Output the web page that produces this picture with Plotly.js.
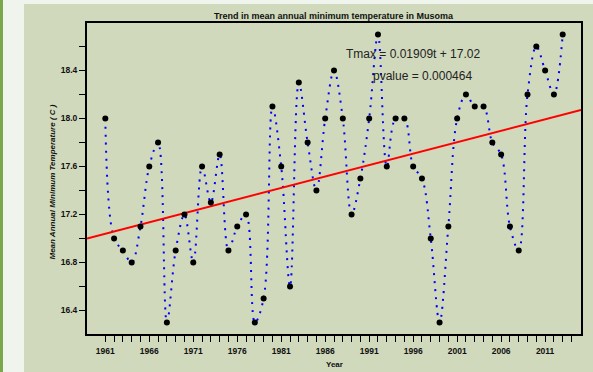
<!DOCTYPE html>
<html>
<head>
<meta charset="utf-8">
<script src="https://cdn.plot.ly/plotly-3.0.1.min.js"></script>
<style>
  html, body { margin: 0; padding: 0; background: #eff4ec; width: 593px; height: 372px; overflow: hidden; }
  #strip { position: absolute; left: 0; top: 0; width: 3px; height: 372px; background: #79a84a; }
  #chart { position: absolute; left: 24px; top: 4px; width: 569px; height: 368px; }
</style>
</head>
<body>
<div id="strip"></div>
<div id="chart"></div>
<script>
// Data
var years = [1961,1962,1963,1964,1965,1966,1967,1968,1969,1970,
             1971,1972,1973,1974,1975,1976,1977,1978,1979,1980,
             1981,1982,1983,1984,1985,1986,1987,1988,1989,1990,
             1991,1992,1993,1994,1995,1996,1997,1998,1999,2000,
             2001,2002,2003,2004,2005,2006,2007,2008,2009,2010,
             2011,2012,2013];
var minTemp = [18.0,17.0,16.9,16.8,17.1,17.6,17.8,16.3,16.9,17.2,
               16.8,17.6,17.3,17.7,16.9,17.1,17.2,16.3,16.5,18.1,
               17.6,16.6,18.3,17.8,17.4,18.0,18.4,18.0,17.2,17.5,
               18.0,18.7,17.6,18.0,18.0,17.6,17.5,17.0,16.3,17.1,
               18.0,18.2,18.1,18.1,17.8,17.7,17.1,16.9,18.2,18.6,
               18.4,18.2,18.7];
var trendSlope = 0.01909;
var trendIntercept = 17.02;
var trendOrigin = 1960;   // t = year - 1960
var xLabelYears = [1961,1966,1971,1976,1981,1986,1991,1996,2001,2006,2011];
var yLabelValues = [16.4,16.8,17.2,17.6,18.0,18.4];
var eqText = "Tmax = 0.01909t + 17.02";
var pText = "pvalue = 0.000464";

// axis ranges (R style 4% extension)
var xr = [years[0] - 0.04*(years[years.length-1]-years[0]), years[years.length-1] + 0.04*(years[years.length-1]-years[0])];
var ymin = Math.min.apply(null, minTemp), ymax = Math.max.apply(null, minTemp);
var yr = [ymin - 0.04*(ymax-ymin), ymax + 0.04*(ymax-ymin)];

// tick arrays
var xtv = [], xtt = [];
for (var yv = 1961; yv <= 2014; yv++) {
  xtv.push(yv);
  xtt.push(xLabelYears.indexOf(yv) >= 0 ? String(yv) : '');
}
var ytv = [], ytt = [];
for (var k = 0; k <= 11; k++) {
  var v = Math.round((16.4 + 0.2*k)*10)/10;
  ytv.push(v);
  ytt.push(yLabelValues.indexOf(v) >= 0 ? v.toFixed(1) : '');
}

var trendX = [xr[0], xr[1]];
var trendY = trendX.map(function(x){ return trendIntercept + trendSlope*(x - trendOrigin); });

var font = 'Liberation Sans, Arial, Helvetica, sans-serif';

var traces = [
  { x: years, y: minTemp, type: 'scatter', mode: 'lines',
    line: { shape: 'spline', smoothing: 1, color: '#0000ff', width: 2, dash: '2px,6px' },
    hoverinfo: 'skip' },
  { x: trendX, y: trendY, type: 'scatter', mode: 'lines',
    line: { color: '#ff0000', width: 2 } },
  { x: years, y: minTemp, type: 'scatter', mode: 'markers',
    marker: { color: '#000000', size: 6 } }
];

var layout = {
  width: 569, height: 368,
  margin: { l: 63, r: 12, t: 19, b: 38 },
  paper_bgcolor: '#d0d9bc',
  plot_bgcolor: '#d0d9bc',
  showlegend: false,
  font: { family: font, color: '#000' },
  xaxis: {
    range: xr, showgrid: false, zeroline: false,
    showline: true, linecolor: '#000', linewidth: 2, mirror: true,
    ticks: 'outside', ticklen: 6, tickwidth: 1, tickcolor: '#000',
    tickmode: 'array', tickvals: xtv, ticktext: xtt, ticklabelstandoff: 2,
    tickfont: { family: font, size: 8.5, color: '#111', weight: 'bold' }
  },
  yaxis: {
    range: yr, showgrid: false, zeroline: false,
    showline: true, linecolor: '#000', linewidth: 2, mirror: true,
    ticks: 'outside', ticklen: 6, tickwidth: 1, tickcolor: '#000',
    tickmode: 'array', tickvals: ytv, ticktext: ytt,
    tickfont: { family: font, size: 8.5, color: '#111', weight: 'bold' }
  },
  annotations: [
    { text: '<b>Trend in mean annual minimum temperature in Musoma</b>', xref: 'paper', yref: 'paper',
      x: 0.5, y: 1, yshift: 0, xanchor: 'center', yanchor: 'bottom', showarrow: false,
      font: { family: font, size: 9, color: '#111' } },
    { text: '<b><i>Mean Annual Minimum Temperature ( C )</i></b>', xref: 'paper', yref: 'paper',
      x: -0.069, y: 0.49, xanchor: 'center', yanchor: 'middle', textangle: -90, showarrow: false,
      font: { family: font, size: 8, color: '#111' } },
    { text: '<b>Year</b>', xref: 'paper', yref: 'paper',
      x: 0.5, y: -0.12, xanchor: 'center', yanchor: 'bottom', showarrow: false,
      font: { family: font, size: 8, color: '#111' } },
    { text: eqText, xref: 'x', yref: 'y', x: 1996.0, y: 18.536, xanchor: 'center', yanchor: 'middle',
      showarrow: false, font: { family: font, size: 12, color: '#222' } },
    { text: pText, xref: 'x', yref: 'y', x: 1997.1, y: 18.355, xanchor: 'center', yanchor: 'middle',
      showarrow: false, font: { family: font, size: 12, color: '#222' } }
  ]
};

Plotly.newPlot('chart', traces, layout, { displayModeBar: false, staticPlot: true });
</script>
</body>
</html>
